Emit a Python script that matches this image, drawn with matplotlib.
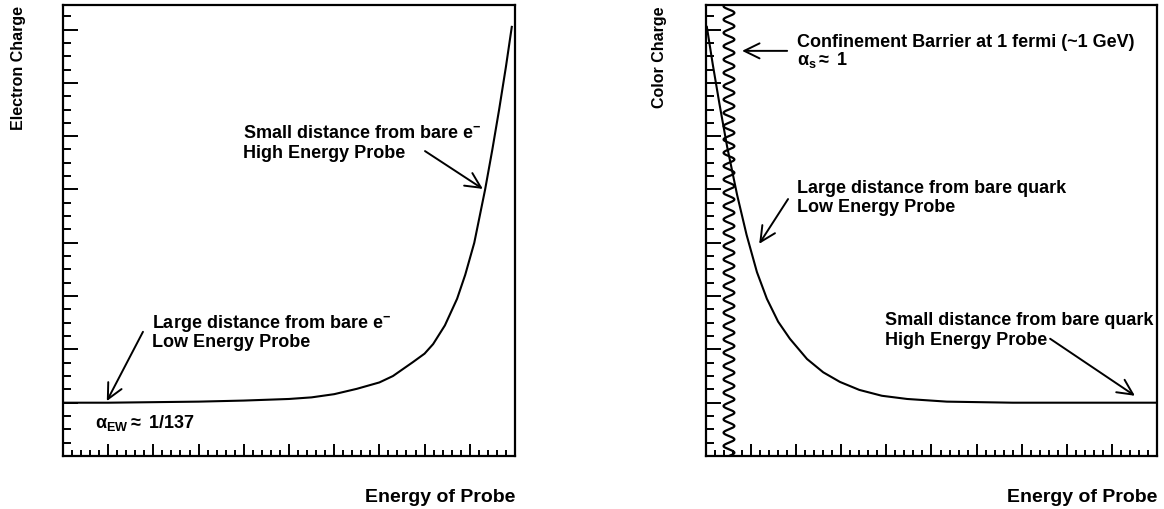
import matplotlib
matplotlib.use("Agg")
import matplotlib.pyplot as plt
import numpy as np
from matplotlib.ticker import MultipleLocator, NullFormatter

plt.rcParams['font.family'] = ['Liberation Sans', 'DejaVu Sans']
plt.rcParams['font.weight'] = 'bold'
plt.rcParams['axes.labelweight'] = 'bold'
plt.rcParams['mathtext.fontset'] = 'custom'
plt.rcParams['mathtext.rm'] = 'Liberation Sans'
plt.rcParams['mathtext.it'] = 'Liberation Sans'
plt.rcParams['mathtext.bf'] = 'Liberation Sans:bold'

# coupling curves
em_x = [0.0, 1.0, 2.0, 3.0, 4.0, 5.0, 5.5, 6.0, 6.5, 7.0, 7.3, 7.74, 8.0,
        8.19, 8.45, 8.72, 8.9, 9.1, 9.34, 9.5, 9.65, 9.8, 9.93]
em_y = [1.0, 1.0, 1.01, 1.02, 1.04, 1.07, 1.10, 1.16, 1.26, 1.38, 1.50, 1.76,
        1.92, 2.10, 2.45, 2.95, 3.40, 4.00, 5.00, 5.75, 6.50, 7.30, 8.05]

qcd_x = [0.02, 0.15, 0.3, 0.47, 0.69, 0.9, 1.13, 1.35, 1.6, 1.86, 2.24, 2.6,
         2.97, 3.4, 3.9, 4.46, 5.34, 6.8, 8.0, 9.0, 9.97]
qcd_y = [8.05, 7.35, 6.60, 5.80, 4.90, 4.15, 3.45, 2.95, 2.52, 2.20, 1.82,
         1.57, 1.39, 1.24, 1.13, 1.07, 1.02, 1.0, 1.0, 1.0, 1.0]

# confinement barrier (zigzag decoration)
barrier_x = 0.51
barrier_amp = 0.12
barrier_period = 0.25

XMAX = 10.0
YMAX = 8.46

fig = plt.figure(figsize=(11.64, 5.10), dpi=100)
ax1 = fig.add_axes([0.0541, 0.1039, 0.3883, 0.8843])
ax2 = fig.add_axes([0.6065, 0.1039, 0.3875, 0.8843])

for ax in (ax1, ax2):
    ax.set_xlim(0, XMAX)
    ax.set_ylim(0, YMAX)
    for s in ax.spines.values():
        s.set_linewidth(1.6)
    ax.xaxis.set_major_locator(MultipleLocator(1))
    ax.xaxis.set_minor_locator(MultipleLocator(0.2))
    ax.yaxis.set_major_locator(MultipleLocator(1))
    ax.yaxis.set_minor_locator(MultipleLocator(0.25))
    ax.xaxis.set_major_formatter(NullFormatter())
    ax.yaxis.set_major_formatter(NullFormatter())
    ax.tick_params(axis='both', which='both', direction='in', top=False, right=False, width=1.4)
    ax.tick_params(axis='x', which='major', length=8.6)
    ax.tick_params(axis='x', which='minor', length=4.3)
    ax.tick_params(axis='y', which='major', length=10.8)
    ax.tick_params(axis='y', which='minor', length=5.8)
    ax.set_xlabel('Energy of Probe', fontsize=14, fontweight='bold', loc='right')
    ax.xaxis.set_label_coords(1.0, -0.071)
    ax.xaxis.label.set_va('top')

ax1.set_ylabel('Electron Charge', fontsize=11.5, fontweight='bold', loc='top')
ax1.yaxis.set_label_coords(-0.082, 1.0)
ax2.set_ylabel('Color Charge', fontsize=11.5, fontweight='bold', loc='top')
ax2.yaxis.set_label_coords(-0.086, 1.0)

ax1.plot(em_x, em_y, color='black', lw=1.5, solid_joinstyle='round')
ax2.plot(qcd_x, qcd_y, color='black', lw=1.5, solid_joinstyle='round')

wy = np.linspace(0, YMAX, 1200)
wx = barrier_x + barrier_amp * np.sin(2 * np.pi * wy / barrier_period)
ax2.plot(wx, wy, color='black', lw=1.6)

arrow = dict(arrowstyle='->,head_length=0.55,head_width=0.27', lw=1.4,
             color='black', shrinkA=0, shrinkB=0, mutation_scale=20)
fs = 13

# left panel
ax1.text(3.98, 5.98, r'Small distance from bare e$^{\mathbf{-}}$', fontsize=fs)
ax1.text(3.98, 5.61, 'High Energy Probe', fontsize=fs)
ax1.annotate('', xy=(9.29, 5.01), xytext=(8.01, 5.72), arrowprops=arrow)
ax1.text(1.97, 2.42, r'Large distance from bare e$^{\mathbf{-}}$', fontsize=fs)
ax1.text(1.97, 2.06, 'Low Energy Probe', fontsize=fs)
ax1.annotate('', xy=(0.97, 1.03), xytext=(1.77, 2.33), arrowprops=arrow)
ax1.text(0.71, 0.54, r'$\alpha_{\rm EW} \approx$ $\mathbf{1/137}$', fontsize=fs)

# right panel
ax2.text(2.02, 7.70, 'Confinement Barrier at 1 fermi (~1 GeV)', fontsize=fs)
ax2.text(2.02, 7.36, r'$\alpha_{\rm s} \approx$ $\mathbf{1}$', fontsize=fs)
ax2.annotate('', xy=(0.80, 7.60), xytext=(1.80, 7.60), arrowprops=arrow)
ax2.text(2.02, 4.95, 'Large distance from bare quark', fontsize=fs)
ax2.text(2.02, 4.60, 'Low Energy Probe', fontsize=fs)
ax2.annotate('', xy=(1.18, 3.98), xytext=(1.82, 4.82), arrowprops=arrow)
ax2.text(3.97, 2.48, 'Small distance from bare quark', fontsize=fs)
ax2.text(3.97, 2.10, 'High Energy Probe', fontsize=fs)
ax2.annotate('', xy=(9.51, 1.13), xytext=(7.63, 2.20), arrowprops=arrow)

fig.savefig('out.png', dpi=100)
